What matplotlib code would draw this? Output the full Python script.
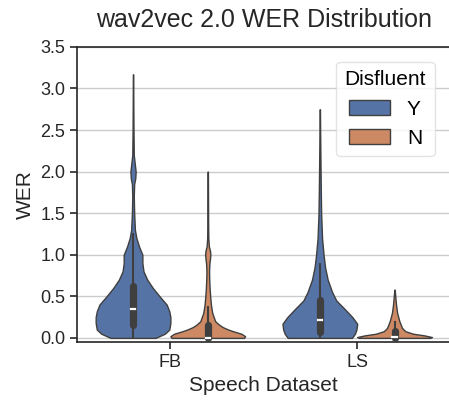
import numpy as np
import matplotlib
matplotlib.use('Agg')
import matplotlib.pyplot as plt
from matplotlib.patches import Patch

plt.rcParams['font.family'] = ['Liberation Sans', 'DejaVu Sans']

# ------------------------------------------------------------------
# Data
# ------------------------------------------------------------------
datasets = ['FB', 'LS']
hues = ['Y', 'N']

# violin outlines: WER levels and relative half-widths (1 = widest)
fb_y_wer = [0, 0.05, 0.1, 0.18, 0.25, 0.32, 0.4, 0.5, 0.6, 0.7, 0.8, 0.9,
            1.0, 1.1, 1.2, 1.3, 1.5, 1.7, 1.85, 1.92, 2.0, 2.08, 2.2, 2.5,
            2.8, 3.17]
fb_y_dens = [0.6, 0.85, 0.97, 1.0, 1.0, 0.97, 0.9, 0.71, 0.53, 0.38, 0.28,
             0.25, 0.25, 0.16, 0.09, 0.05, 0.03, 0.02, 0.03, 0.06, 0.07,
             0.05, 0.02, 0.012, 0.008, 0.004]

fb_n_wer = [0, 0.02, 0.05, 0.08, 0.1, 0.13, 0.16, 0.2, 0.3, 0.4, 0.5, 0.6,
            0.7, 0.8, 0.9, 0.95, 1.0, 1.05, 1.1, 1.2, 1.4, 1.7, 2.0]
fb_n_dens = [0.97, 1.0, 0.9, 0.68, 0.55, 0.4, 0.3, 0.2, 0.12, 0.085, 0.065,
             0.05, 0.04, 0.035, 0.045, 0.06, 0.07, 0.06, 0.03, 0.015, 0.01,
             0.007, 0.004]

ls_y_wer = [0, 0.05, 0.1, 0.17, 0.25, 0.35, 0.45, 0.55, 0.7, 0.85, 1.0, 1.2,
            1.5, 1.8, 2.2, 2.5, 2.75]
ls_y_dens = [0.86, 0.94, 0.98, 1.0, 0.87, 0.66, 0.44, 0.33, 0.21, 0.14, 0.1,
             0.06, 0.035, 0.025, 0.015, 0.008, 0.004]

ls_n_wer = [0, 0.01, 0.03, 0.05, 0.08, 0.12, 0.2, 0.3, 0.4, 0.5, 0.58]
ls_n_dens = [0.95, 1.0, 0.8, 0.5, 0.29, 0.2, 0.13, 0.07, 0.04, 0.02, 0.005]

# inner box: q1, median, q3, whisker low, whisker high
fb_y_box = [0.15, 0.35, 0.63, 0.0, 1.26]
fb_n_box = [0.0, 0.0, 0.16, 0.0, 0.38]
ls_y_box = [0.07, 0.21, 0.46, 0.0, 0.9]
ls_n_box = [0.0, 0.01, 0.08, 0.0, 0.2]

violins = [
    (0, 0, fb_y_wer, fb_y_dens, fb_y_box),
    (0, 1, fb_n_wer, fb_n_dens, fb_n_box),
    (1, 0, ls_y_wer, ls_y_dens, ls_y_box),
    (1, 1, ls_n_wer, ls_n_dens, ls_n_box),
]

colors = ['#5673a6', '#cc8963']
edge = '#3f3f3f'
half_width = 0.2
offsets = [-0.2, 0.2]

# ------------------------------------------------------------------
fig = plt.figure(figsize=(4.49, 4.01), dpi=100)
ax = fig.add_axes([0.1715, 0.147, 0.832, 0.736])

for xi, hi, wer, dens, box in violins:
    xc = xi + offsets[hi]
    wer = np.array(wer)
    d = np.array(dens) * half_width
    ax.fill_betweenx(wer, xc - d, xc + d, facecolor=colors[hi],
                     edgecolor=edge, linewidth=1.0, zorder=2)
    q1, med, q3, lo, hi_w = box
    ax.plot([xc, xc], [lo, hi_w], color=edge, lw=1.5, solid_capstyle='butt', zorder=3)
    ax.plot([xc, xc], [q1, q3], color=edge, lw=5.2, solid_capstyle='round', zorder=3)
    ax.plot([xc - 0.011, xc + 0.011], [med, med], color='white', lw=1.6, zorder=4)

ax.set_xlim(-0.5, 1.5)
ax.set_ylim(-0.05, 3.5)
ax.set_yticks(np.arange(0, 3.51, 0.5))
ax.set_xticks([0, 1])
ax.set_xticklabels(datasets)
ax.yaxis.grid(True, color='#cccccc', lw=1.0, zorder=0)
ax.set_axisbelow(True)

for s in ax.spines.values():
    s.set_color('#262626')
    s.set_linewidth(1.2)
ax.spines['right'].set_visible(False)
ax.tick_params(colors='#262626', labelsize=13, length=5, width=1.2)

ax.set_xlabel('Speech Dataset', fontsize=15, color='#262626')
ax.set_ylabel('WER', fontsize=15, color='#262626')
ax.set_title('wav2vec 2.0 WER Distribution', fontsize=18, color='#262626', pad=14)

handles = [Patch(facecolor=colors[i], edgecolor=edge, label=hues[i]) for i in range(2)]
leg = ax.legend(handles=handles, title='Disfluent', loc='upper right',
                fontsize=15, title_fontsize=15, frameon=True,
                bbox_to_anchor=(0.985, 0.985))
leg.get_frame().set_edgecolor('#dddddd')

fig.savefig('out.png', dpi=100)
